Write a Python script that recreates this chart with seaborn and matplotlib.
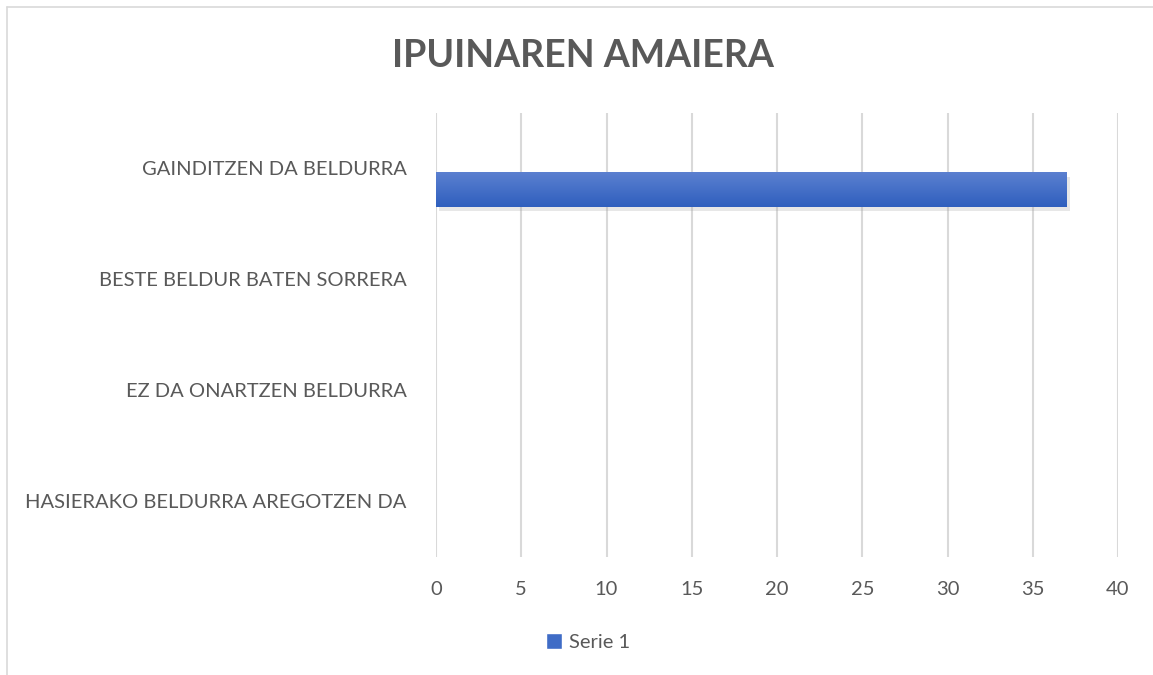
import numpy as np
import pandas as pd
import matplotlib
matplotlib.use("Agg")
import matplotlib.pyplot as plt
import seaborn as sns
from matplotlib import patheffects as pe
from matplotlib.patches import Rectangle

categories = ["GAINDITZEN DA BELDURRA", "BESTE BELDUR BATEN SORRERA",
              "EZ DA ONARTZEN BELDURRA", "HASIERAKO BELDURRA AREGOTZEN DA"]
values = [37, 0, 0, 0]
series_name = "Serie 1"
xticks = [0, 5, 10, 15, 20, 25, 30, 35, 40]
title = "IPUINAREN AMAIERA"

sns.set_theme(style="white")
plt.rcParams['font.family'] = ['Lato', 'DejaVu Sans']

df = pd.DataFrame({"cat": categories, "val": values, "serie": series_name})

fig = plt.figure(figsize=(11.53, 6.75), dpi=100)
ax = fig.add_axes([436/1153, 1-557/675, (1118-436)/1153, (557-113)/675])

sns.barplot(data=df, y="cat", x="val", orient="h", color="#3f6cc6",
            width=0.31, ax=ax, errorbar=None, zorder=3, linewidth=0)

grey = "#595959"
off = 0.19
ax.set_xticks(xticks)
ax.set_xticklabels([str(t) for t in xticks], fontsize=14.5, color=grey)
ax.set_yticks(np.arange(len(categories)) - off)
ax.set_yticklabels(categories, fontsize=14.5, color=grey)
ax.tick_params(axis="x", length=0, pad=17.5)
ax.tick_params(axis="y", length=0, pad=21)
ax.set_xlabel("")
ax.set_ylabel("")
for s in ax.spines.values():
    s.set_visible(False)
ax.xaxis.grid(True, color="#d9d9d9", linewidth=1.5, zorder=0)
ax.yaxis.grid(False)
ax.set_axisbelow(True)

# gradient + shadow on bars
grad = np.linspace(0, 1, 100).reshape(-1, 1)
cmap = matplotlib.colors.LinearSegmentedColormap.from_list("g", ["#5b80d0", "#2f5fbe"])
for p in ax.patches:
    w = p.get_width()
    p.set_linewidth(0)
    if w <= 0:
        continue
    p.set_path_effects([pe.SimplePatchShadow(offset=(2, -3), shadow_rgbFace="#a0a0a0", alpha=0.25), pe.Normal()])
    x0, y0 = p.get_x(), p.get_y()
    h = p.get_height()
    im = ax.imshow(grad, cmap=cmap, aspect="auto", extent=(x0, x0 + w, y0 + h, y0),
                   zorder=4, interpolation="bicubic")
    im.set_clip_path(p)
ax.set_xlim(0, 40)
ax.set_ylim(3.5 - off, -0.5 - off)

fig.text(583/1153, 1-56/675, title, ha="center", va="center", fontsize=27,
         fontweight="bold", color=grey)

# legend
handle = Rectangle((0, 0), 1, 1, facecolor="#3f6cc6")
fig.legend([handle], [series_name], loc="center", bbox_to_anchor=(588/1153, 1-642/675),
           frameon=False, fontsize=14.5, labelcolor=grey, handlelength=0.8,
           handleheight=0.8, handletextpad=0.3)

# chart border (left and top only visible)
fig.add_artist(plt.Line2D([7/1153, 7/1153], [0, 1-7/675], transform=fig.transFigure,
                          color="#d9d9d9", linewidth=1.2))
fig.add_artist(plt.Line2D([7/1153, 1.0], [1-7/675, 1-7/675], transform=fig.transFigure,
                          color="#d9d9d9", linewidth=1.2))

fig.savefig("out.png", dpi=100, facecolor="white")
